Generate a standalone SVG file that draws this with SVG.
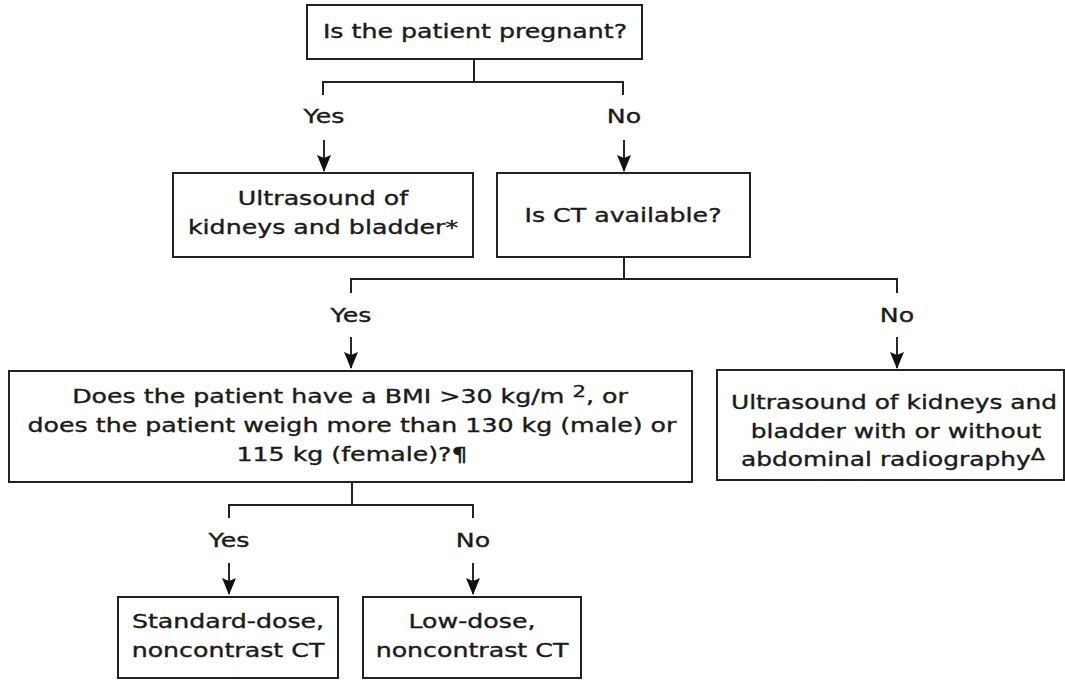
<svg xmlns="http://www.w3.org/2000/svg" width="1065" height="681" viewBox="0 0 1065 681">
<style>
.box{fill:#fff;stroke:#222;stroke-width:2}
.ln{fill:none;stroke:#222;stroke-width:2}
.ar{fill:none;stroke:#111;stroke-width:1.8}
text{font-family:"DejaVu Sans","Verdana",sans-serif;font-size:19px;fill:#1a1a1a;stroke:#1a1a1a;stroke-width:0.35;text-anchor:middle}
.sup{font-size:16px}
</style>
<defs>
<marker id="ah" markerUnits="userSpaceOnUse" markerWidth="16" markerHeight="20" refX="8" refY="19" orient="0" viewBox="0 0 16 20">
<path d="M1,3 L8,6 L15,3 L8,20 Z" fill="#111"/>
</marker>
</defs>
<rect width="1065" height="681" fill="#fff"/>
<g id="connectors">
<path class="ln" d="M474,59 V82 M323,95 V82 H623 V95"/>
<path class="ln" d="M624,257 V279 M351,293 V279 H897 V293"/>
<path class="ln" d="M352,482 V505 M229,518 V505 H473 V518"/>
<line class="ar" x1="324" y1="140" x2="324" y2="171" marker-end="url(#ah)"/>
<line class="ar" x1="624" y1="140" x2="624" y2="171" marker-end="url(#ah)"/>
<line class="ar" x1="351" y1="337" x2="351" y2="368" marker-end="url(#ah)"/>
<line class="ar" x1="897" y1="337" x2="897" y2="368" marker-end="url(#ah)"/>
<line class="ar" x1="229" y1="563" x2="229" y2="594" marker-end="url(#ah)"/>
<line class="ar" x1="473" y1="563" x2="473" y2="594" marker-end="url(#ah)"/>
<text transform="matrix(1.33 0 0 1 324 123)">Yes</text>
<text transform="matrix(1.33 0 0 1 624 123)">No</text>
<text transform="matrix(1.33 0 0 1 351 322)">Yes</text>
<text transform="matrix(1.33 0 0 1 897 322)">No</text>
<text transform="matrix(1.33 0 0 1 229 547)">Yes</text>
<text transform="matrix(1.33 0 0 1 473 547)">No</text>
</g>
<g id="n-pregnant">
<rect class="box" x="307" y="5" width="335" height="54"/>
<text transform="matrix(1.33 0 0 1 475 38)">Is the patient pregnant?</text>
</g>
<g id="n-us-pregnant">
<rect class="box" x="173" y="173" width="300" height="84"/>
<text transform="matrix(1.33 0 0 1 323 205)">Ultrasound of</text>
<text transform="matrix(1.33 0 0 1 323 234)">kidneys and bladder*</text>
</g>
<g id="n-ct">
<rect class="box" x="497" y="173" width="253" height="84"/>
<text transform="matrix(1.33 0 0 1 623 222)">Is CT available?</text>
</g>
<g id="n-bmi">
<rect class="box" x="9" y="371" width="683" height="111"/>
<text transform="matrix(1.33 0 0 1 350 403)">Does the patient have a BMI &gt;30 kg/m <tspan class="sup" dy="-6">2</tspan><tspan dy="6">, or</tspan></text>
<text transform="matrix(1.33 0 0 1 352 432)">does the patient weigh more than 130 kg (male) or</text>
<text transform="matrix(1.33 0 0 1 352 461)">115 kg (female)?¶</text>
</g>
<g id="n-us-noct">
<rect class="box" x="717" y="370" width="347" height="110"/>
<text transform="matrix(1.31 0 0 1 894 409)">Ultrasound of kidneys and</text>
<text transform="matrix(1.31 0 0 1 896 438)">bladder with or without</text>
<text transform="matrix(1.31 0 0 1 893 466)">abdominal radiography<tspan class="sup" dy="-6">Δ</tspan></text>
</g>
<g id="n-standard">
<rect class="box" x="118" y="597" width="220" height="81"/>
<text transform="matrix(1.33 0 0 1 228 628)">Standard-dose,</text>
<text transform="matrix(1.33 0 0 1 228 657)">noncontrast CT</text>
</g>
<g id="n-low">
<rect class="box" x="363" y="597" width="218" height="81"/>
<text transform="matrix(1.33 0 0 1 472 628)">Low-dose,</text>
<text transform="matrix(1.33 0 0 1 472 657)">noncontrast CT</text>
</g>
</svg>
